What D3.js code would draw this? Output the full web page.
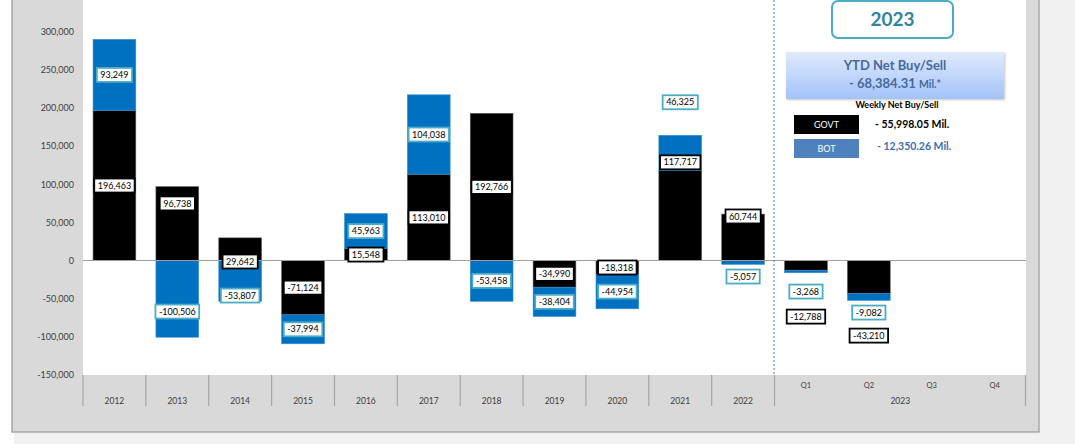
<!DOCTYPE html>
<html>
<head>
<meta charset="utf-8">
<script src="https://cdn.jsdelivr.net/npm/d3@7"></script>
<style>
  html, body { margin: 0; padding: 0; background: #ffffff; }
  svg { display: block; }
  text { font-family: Lato, "Open Sans", "DejaVu Sans", sans-serif; }
</style>
</head>
<body>
<svg id="chart" width="1075" height="444"></svg>
<script>
// ---------- DATA ----------
const categories = ["2012","2013","2014","2015","2016","2017","2018","2019","2020","2021","2022","Q1","Q2","Q3","Q4"];
const govtValues = [196463, 96738, 29642, -71124, 15548, 113010, 192766, -34990, -18318, 117717, 60744, -12788, -43210, null, null];
const botValues  = [93249, -100506, -53807, -37994, 45963, 104038, -53458, -38404, -44954, 46325, -5057, -3268, -9082, null, null];
const yTicks = [-150000, -100000, -50000, 0, 50000, 100000, 150000, 200000, 250000, 300000];
const groupLabel = "2023";
const quarterCats = ["Q1","Q2","Q3","Q4"];
const ytdTitle = "YTD Net Buy/Sell";
const ytdValue = "- 68,384.31";
const weeklyTitle = "Weekly Net Buy/Sell";
const govtWeekly = "- 55,998.05 Mil.";
const botWeekly = "- 12,350.26 Mil.";

// label anchors (data units) where the reference moved a label away from segment centre
const labelAnchor = {
  "2013|GOVT": 74800, "2013|BOT": -66900,
  "2014|GOVT": -1300, "2014|BOT": -45900,
  "2021|GOVT": 128600, "2021|BOT": 207300,
  "2022|GOVT": 57700, "2022|BOT": -21000,
  "Q1|GOVT": -73500, "Q1|BOT": -40700,
  "Q2|GOVT": -98400, "Q2|BOT": -68200
};

// ---------- LAYOUT ----------
const svg = d3.select("#chart");
const plot = { left: 83, right: 1026, top: 0, bottom: 375 };
const GOVT_COLOR = "#000000", BOT_COLOR = "#0070c0";

// page / panel background
svg.append("rect").attr("x", 0).attr("y", 0).attr("width", 1075).attr("height", 444).attr("fill", "#ffffff");
svg.append("rect").attr("x", 14).attr("y", 433).attr("width", 1061).attr("height", 11).attr("fill", "#f1f1f1");
svg.append("rect").attr("x", 1040).attr("y", 0).attr("width", 35).attr("height", 444).attr("fill", "#f1f1f1");
svg.append("rect").attr("x", 12).attr("y", -5).attr("width", 1027).attr("height", 437)
  .attr("fill", "#d9d9d9").attr("stroke", "#a6a6a6").attr("stroke-width", 1.5);
svg.append("rect").attr("x", plot.left).attr("y", plot.top)
  .attr("width", plot.right - plot.left).attr("height", plot.bottom - plot.top).attr("fill", "#ffffff");

// ---------- SCALES ----------
const x = d3.scaleBand().domain(categories).range([plot.left, plot.right]).paddingInner(0.32).paddingOuter(0.16);
const step = x.step();
const y = d3.scaleLinear().domain([-150000, 300000]).range([plot.bottom, 31.5]);

// stacking (diverging)
const rows = categories.map((c, i) => ({ cat: c, GOVT: govtValues[i] || 0, BOT: botValues[i] || 0 }));
const stack = d3.stack().keys(["GOVT", "BOT"]).offset(d3.stackOffsetDiverging);
const series = stack(rows);

// ---------- Y AXIS ----------
const yAxis = d3.axisLeft(y).tickValues(yTicks).tickSize(0).tickPadding(0)
  .tickFormat(d => d3.format(",")(d).replace("−", "-"));
const yg = svg.append("g").attr("transform", `translate(${74},0)`).call(yAxis);
yg.select(".domain").remove();
yg.selectAll("text").attr("font-size", 9).attr("fill", "#404040").attr("text-anchor", "end").attr("dy", "0.32em");

// ---------- BARS ----------
const colors = { GOVT: GOVT_COLOR, BOT: BOT_COLOR };
series.forEach(s => {
  svg.append("g").selectAll("rect").data(s.filter((d, i) => (s.key === "GOVT" ? govtValues[i] : botValues[i]) != null))
    .join("rect")
    .attr("x", d => x(d.data.cat))
    .attr("width", x.bandwidth())
    .attr("y", d => y(Math.max(d[0], d[1])))
    .attr("height", d => Math.abs(y(d[0]) - y(d[1])))
    .attr("fill", colors[s.key])
    .attr("stroke", s.key === "GOVT" ? "#595959" : "#3d8fd0")
    .attr("stroke-width", 0.6);
});

// zero line
svg.append("line").attr("x1", plot.left).attr("x2", plot.right)
  .attr("y1", y(0)).attr("y2", y(0)).attr("stroke", "#a0a0a0").attr("stroke-width", 1.2);

// dashed divider before 2023 quarters
const divX = x("Q1") - x.step() * x.paddingInner() / 2 - 0.5;
svg.append("line").attr("x1", divX).attr("x2", divX).attr("y1", 0).attr("y2", plot.bottom)
  .attr("stroke", "#4f81bd").attr("stroke-width", 1).attr("stroke-dasharray", "2,2");

// ---------- DATA LABELS ----------
const labelG = svg.append("g");
const fmt = d3.format(",");
series.forEach(s => {
  s.forEach((d, i) => {
    const v = s.key === "GOVT" ? govtValues[i] : botValues[i];
    if (v == null) return;
    const key = d.data.cat + "|" + s.key;
    const anchor = labelAnchor[key] != null ? labelAnchor[key] : (d[0] + d[1]) / 2;
    const cx = x(d.data.cat) + x.bandwidth() / 2;
    const cy = y(anchor);
    const txt = fmt(v).replace("−", "-");
    const g = labelG.append("g");
    const t = g.append("text").attr("x", cx).attr("y", cy).attr("text-anchor", "middle")
      .attr("dy", "0.35em").attr("font-size", 9).attr("fill", "#000").text(txt);
    const w = t.node().getComputedTextLength();
    g.insert("rect", "text")
      .attr("x", cx - w / 2 - 3.5).attr("y", cy - 7)
      .attr("width", w + 7).attr("height", 14)
      .attr("fill", "#ffffff")
      .attr("stroke", s.key === "GOVT" ? "#000000" : "#4bacc6")
      .attr("stroke-width", 1.8);
  });
});

// ---------- X AXIS ----------
const axG = svg.append("g");
const tickYs = [plot.bottom, 406];
const years = categories.filter(c => !quarterCats.includes(c));
const boundaries = years.map(c => x(c) - step * x.paddingInner() / 2);
boundaries.push(x("Q1") - step * x.paddingInner() / 2);
boundaries.push(plot.right - 0.5);
axG.selectAll("line.b").data(boundaries).join("line")
  .attr("x1", d => d).attr("x2", d => d).attr("y1", tickYs[0]).attr("y2", tickYs[1])
  .attr("stroke", "#a6a6a6").attr("stroke-width", 1.2);
axG.selectAll("text.yr").data(years).join("text")
  .attr("x", d => x(d) + x.bandwidth() / 2).attr("y", 404)
  .attr("text-anchor", "middle").attr("font-size", 8.5).attr("fill", "#404040").text(d => d);
axG.selectAll("text.q").data(quarterCats).join("text")
  .attr("x", d => x(d) + x.bandwidth() / 2).attr("y", 388)
  .attr("text-anchor", "middle").attr("font-size", 7.5).attr("fill", "#404040").text(d => d);
axG.append("text")
  .attr("x", (x("Q1") - step * x.paddingInner() / 2 + plot.right) / 2).attr("y", 404)
  .attr("text-anchor", "middle").attr("font-size", 8.5).attr("fill", "#404040").text(groupLabel);

// ---------- RIGHT-SIDE INFO ----------
const info = svg.append("g");
info.append("rect").attr("x", 832).attr("y", 1).attr("width", 121).attr("height", 37).attr("rx", 6)
  .attr("fill", "#ffffff").attr("stroke", "#4bacc6").attr("stroke-width", 2);
info.append("text").attr("x", 892.5).attr("y", 26).attr("text-anchor", "middle")
  .attr("font-size", 19).attr("font-weight", "bold").attr("fill", "#31849b").text(groupLabel);

const defs = svg.append("defs");
const grad = defs.append("linearGradient").attr("id", "ytdGrad").attr("x1", 0).attr("y1", 0).attr("x2", 0).attr("y2", 1);
grad.append("stop").attr("offset", "0%").attr("stop-color", "#e0eafc");
grad.append("stop").attr("offset", "100%").attr("stop-color", "#a3c3f9");
const shadow = defs.append("filter").attr("id", "sh").attr("x", "-5%").attr("y", "-10%").attr("width", "115%").attr("height", "130%");
shadow.append("feDropShadow").attr("dx", 1).attr("dy", 1).attr("stdDeviation", 1).attr("flood-color", "#888").attr("flood-opacity", 0.5);
info.append("rect").attr("x", 786).attr("y", 52).attr("width", 218).attr("height", 47)
  .attr("fill", "url(#ytdGrad)").attr("filter", "url(#sh)");
info.append("text").attr("x", 895).attr("y", 70).attr("text-anchor", "middle")
  .attr("font-size", 13).attr("font-weight", "bold").attr("fill", "#46699f").text(ytdTitle);
const ytdT = info.append("text").attr("x", 895).attr("y", 88).attr("text-anchor", "middle")
  .attr("font-weight", "bold").attr("fill", "#46699f");
ytdT.append("tspan").attr("font-size", 13).text(ytdValue + " ");
ytdT.append("tspan").attr("font-size", 10.5).text("Mil.*");

info.append("text").attr("x", 897).attr("y", 108).attr("text-anchor", "middle")
  .attr("font-size", 9).attr("font-weight", "bold").attr("fill", "#000").text(weeklyTitle);

info.append("rect").attr("x", 794).attr("y", 115).attr("width", 65).attr("height", 19).attr("fill", GOVT_COLOR);
info.append("text").attr("x", 826.5).attr("y", 128).attr("text-anchor", "middle")
  .attr("font-size", 9).attr("fill", "#ffffff").text("GOVT");
info.append("text").attr("x", 875).attr("y", 128)
  .attr("font-size", 10.5).attr("font-weight", "bold").attr("fill", "#000").text(govtWeekly);

info.append("rect").attr("x", 794).attr("y", 139).attr("width", 65).attr("height", 19).attr("fill", "#4f81bd");
info.append("text").attr("x", 826.5).attr("y", 152).attr("text-anchor", "middle")
  .attr("font-size", 9).attr("fill", "#ffffff").text("BOT");
info.append("text").attr("x", 877).attr("y", 150)
  .attr("font-size", 10.5).attr("font-weight", "bold").attr("fill", "#3f6fae").text(botWeekly);
</script>
</body>
</html>
